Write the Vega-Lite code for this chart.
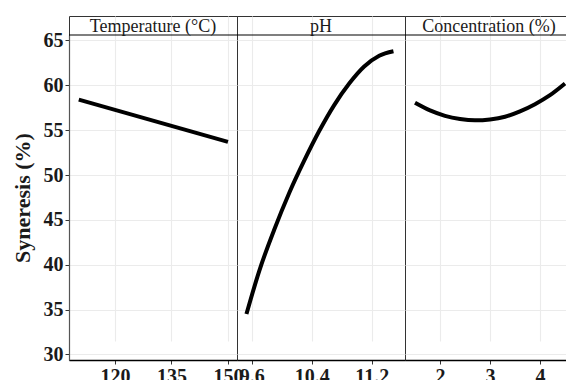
{
  "$schema": "https://vega.github.io/schema/vega-lite/v6.json",
  "padding": {"left": 10, "top": 15, "right": 0, "bottom": 0},
  "background": "white",
  "spacing": 0,
  "bounds": "flush",
  "config": {
    "font": "Liberation Serif",
    "view": {"stroke": "#333333", "strokeWidth": 1},
    "axis": {
      "labelFont": "Liberation Serif",
      "labelFontSize": 20,
      "labelFontWeight": "bold",
      "labelColor": "#1a1a1a",
      "titleFont": "Liberation Serif",
      "titleFontSize": 22,
      "titleFontWeight": "bold",
      "titleColor": "#1a1a1a",
      "gridColor": "#ebebeb",
      "gridWidth": 1.1,
      "tickColor": "#333333",
      "tickSize": 4,
      "labelPadding": 2,
      "domainColor": "#333333"
    }
  },
  "datasets": {
    "temp": [
      {"x": 110.4, "y": 58.4},
      {"x": 150.0, "y": 53.7}
    ],
    "ph": [
      {"x": 9.53, "y": 34.5},
      {"x": 9.7, "y": 39.3},
      {"x": 9.9, "y": 43.9},
      {"x": 10.1, "y": 48.0},
      {"x": 10.3, "y": 51.6},
      {"x": 10.5, "y": 54.9},
      {"x": 10.7, "y": 57.8},
      {"x": 10.9, "y": 60.2},
      {"x": 11.1, "y": 62.1},
      {"x": 11.3, "y": 63.3},
      {"x": 11.49, "y": 63.8}
    ],
    "conc": [
      {"x": 1.5, "y": 58.05},
      {"x": 1.8, "y": 57.2},
      {"x": 2.1, "y": 56.6},
      {"x": 2.4, "y": 56.25},
      {"x": 2.7, "y": 56.1},
      {"x": 3.0, "y": 56.2},
      {"x": 3.3, "y": 56.5},
      {"x": 3.6, "y": 57.1},
      {"x": 3.9, "y": 57.9},
      {"x": 4.2, "y": 58.9},
      {"x": 4.5, "y": 60.2}
    ],
    "h1": [{"label": "Temperature (°C)"}],
    "h2": [{"label": "pH"}],
    "h3": [{"label": "Concentration (%)"}]
  },
  "hconcat": [
    {
      "width": 168, "height": 344,
      "layer": [
        {
          "data": {"name": "temp"},
          "mark": {"type": "line", "color": "black", "strokeWidth": 4, "interpolate": "monotone"},
          "encoding": {
            "x": {"field": "x", "type": "quantitative",
                  "scale": {"domain": [107.8, 152.4], "nice": false, "zero": false},
                  "axis": {"values": [120, 135, 150], "title": null, "domainColor": "black", "domainWidth": 1.5}},
            "y": {"field": "y", "type": "quantitative",
                  "scale": {"domain": [29.38, 65.61], "range": [344, 19], "nice": false, "zero": false},
                  "axis": {"values": [30, 35, 40, 45, 50, 55, 60, 65], "title": "Syneresis (%)", "titlePadding": 9, "domainColor": "#555555", "domainWidth": 1.2}}
          }
        },
        {
          "data": {"name": "h1"},
          "mark": {"type": "rule", "color": "black", "strokeWidth": 1.2},
          "encoding": {"y": {"datum": 65.61, "type": "quantitative"}}
        },
        {
          "data": {"name": "h1"},
          "mark": {"type": "text", "font": "Liberation Serif", "fontSize": 18, "color": "#1a1a1a", "baseline": "middle", "dy": 1},
          "encoding": {"y": {"datum": 66.65, "type": "quantitative"}, "text": {"field": "label"}}
        }
      ]
    },
    {
      "width": 168, "height": 344,
      "layer": [
        {
          "data": {"name": "ph"},
          "mark": {"type": "line", "color": "black", "strokeWidth": 4, "interpolate": "monotone"},
          "encoding": {
            "x": {"field": "x", "type": "quantitative",
                  "scale": {"domain": [9.404, 11.644], "nice": false, "zero": false},
                  "axis": {"values": [9.6, 10.4, 11.2], "format": ".1f", "title": null, "domainColor": "black", "domainWidth": 1.5}},
            "y": {"field": "y", "type": "quantitative",
                  "scale": {"domain": [29.38, 65.61], "range": [344, 19], "nice": false, "zero": false},
                  "axis": {"values": [30, 35, 40, 45, 50, 55, 60, 65], "title": null, "labels": false, "ticks": false, "domain": false}}
          }
        },
        {
          "data": {"name": "h2"},
          "mark": {"type": "rule", "color": "black", "strokeWidth": 1.2},
          "encoding": {"y": {"datum": 65.61, "type": "quantitative"}}
        },
        {
          "data": {"name": "h2"},
          "mark": {"type": "text", "font": "Liberation Serif", "fontSize": 18, "color": "#1a1a1a", "baseline": "middle", "dy": 1},
          "encoding": {"y": {"datum": 66.65, "type": "quantitative"}, "text": {"field": "label"}}
        }
      ]
    },
    {
      "width": 168, "height": 344,
      "layer": [
        {
          "data": {"name": "conc"},
          "mark": {"type": "line", "color": "black", "strokeWidth": 4, "interpolate": "monotone"},
          "encoding": {
            "x": {"field": "x", "type": "quantitative",
                  "scale": {"domain": [1.3, 4.66], "nice": false, "zero": false},
                  "axis": {"values": [2, 3, 4], "title": null, "domainColor": "black", "domainWidth": 1.5}},
            "y": {"field": "y", "type": "quantitative",
                  "scale": {"domain": [29.38, 65.61], "range": [344, 19], "nice": false, "zero": false},
                  "axis": {"values": [30, 35, 40, 45, 50, 55, 60, 65], "title": null, "labels": false, "ticks": false, "domain": false}}
          }
        },
        {
          "data": {"name": "h3"},
          "mark": {"type": "rule", "color": "black", "strokeWidth": 1.2},
          "encoding": {"y": {"datum": 65.61, "type": "quantitative"}}
        },
        {
          "data": {"name": "h3"},
          "mark": {"type": "text", "font": "Liberation Serif", "fontSize": 18, "color": "#1a1a1a", "baseline": "middle", "dy": 1},
          "encoding": {"y": {"datum": 66.65, "type": "quantitative"}, "text": {"field": "label"}}
        }
      ]
    }
  ]
}
